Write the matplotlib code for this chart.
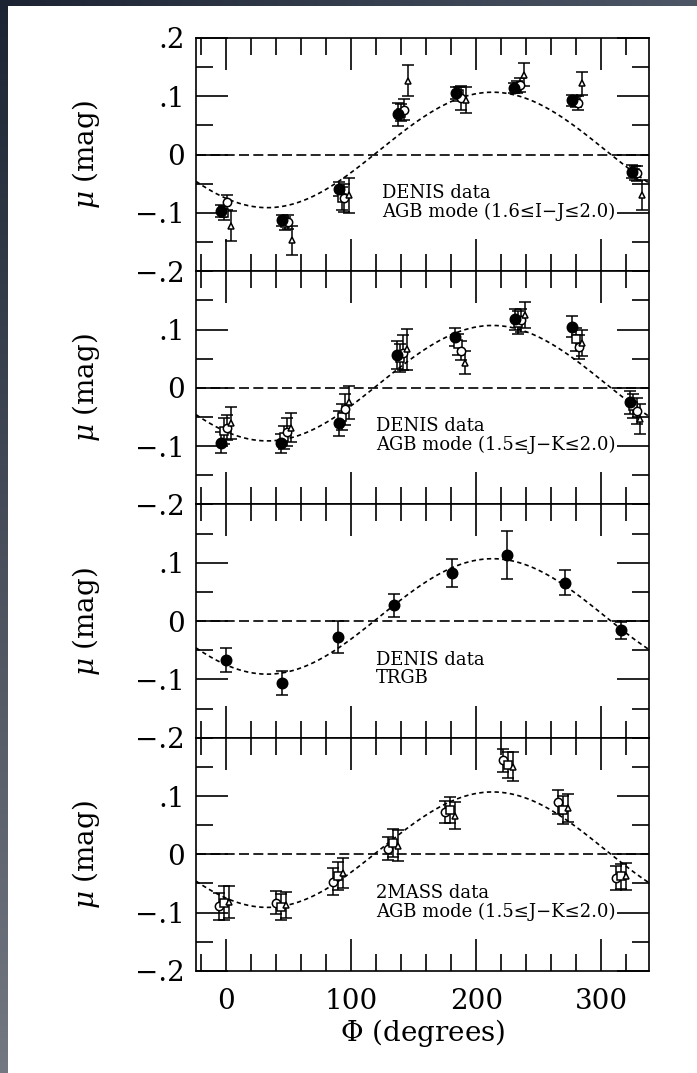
import numpy as np
import matplotlib.pyplot as plt
from matplotlib.ticker import MultipleLocator, FuncFormatter

plt.rcParams['font.family'] = ['DejaVu Serif']
plt.rcParams['mathtext.fontset'] = 'dejavuserif'

# Фазы секторов (градусы) и значения модуля расстояния по панелям
phi_agb_ij = [-4.0, 44.7, 90.0, 137.6, 183.6, 230.3, 276.8, 324.3]
agb_ij_filled = [-0.097, -0.113, -0.059, 0.069, 0.106, 0.114, 0.093, -0.029]
agb_ij_filled_err = [0.010, 0.010, 0.012, 0.020, 0.010, 0.009, 0.010, 0.011]
agb_ij_square = [-0.100, -0.118, -0.075, 0.072, 0.104, 0.116, 0.091, -0.031]
agb_ij_square_err = [0.012, 0.011, 0.020, 0.015, 0.012, 0.010, 0.010, 0.012]
agb_ij_circle = [-0.082, -0.115, -0.074, 0.077, 0.097, 0.120, 0.089, -0.032]
agb_ij_circle_err = [0.013, 0.012, 0.024, 0.018, 0.020, 0.012, 0.012, 0.013]
agb_ij_tri = [-0.122, -0.147, -0.070, 0.127, 0.094, 0.137, 0.122, -0.069]
agb_ij_tri_err = [0.026, 0.025, 0.030, 0.027, 0.022, 0.020, 0.020, 0.026]

phi_agb_jk = [-4.4, 43.9, 90.0, 136.5, 182.8, 230.7, 276.8, 323.1]
agb_jk_filled = [-0.094, -0.095, -0.061, 0.057, 0.087, 0.118, 0.105, -0.025]
agb_jk_filled_err = [0.018, 0.016, 0.022, 0.024, 0.016, 0.018, 0.018, 0.020]
agb_jk_square = [-0.074, -0.085, -0.050, 0.052, 0.075, 0.112, 0.083, -0.031]
agb_jk_square_err = [0.022, 0.020, 0.022, 0.024, 0.018, 0.020, 0.020, 0.020]
agb_jk_circle = [-0.068, -0.076, -0.037, 0.060, 0.064, 0.116, 0.070, -0.040]
agb_jk_circle_err = [0.022, 0.024, 0.027, 0.030, 0.017, 0.020, 0.020, 0.022]
agb_jk_tri = [-0.060, -0.068, -0.025, 0.066, 0.043, 0.125, 0.077, -0.054]
agb_jk_tri_err = [0.028, 0.025, 0.028, 0.035, 0.020, 0.022, 0.023, 0.026]

phi_trgb = [0.0, 44.5, 89.7, 134.4, 180.2, 224.9, 270.7, 315.4]
trgb = [-0.067, -0.106, -0.027, 0.027, 0.082, 0.114, 0.066, -0.016]
trgb_err = [0.020, 0.020, 0.027, 0.020, 0.024, 0.041, 0.021, 0.014]

phi_2mass = [-5.3, 39.9, 85.7, 129.6, 174.9, 221.4, 265.3, 311.9]
mass_circle = [-0.089, -0.083, -0.047, 0.010, 0.073, 0.161, 0.090, -0.041]
mass_circle_err = [0.023, 0.020, 0.023, 0.020, 0.019, 0.019, 0.020, 0.021]
mass_square = [-0.084, -0.090, -0.038, 0.019, 0.076, 0.153, 0.076, -0.038]
mass_square_err = [0.029, 0.022, 0.024, 0.024, 0.022, 0.022, 0.024, 0.022]
mass_tri = [-0.082, -0.087, -0.032, 0.015, 0.066, 0.150, 0.079, -0.038]
mass_tri_err = [0.028, 0.022, 0.025, 0.027, 0.023, 0.025, 0.024, 0.023]

# Параметры синусоидальной модели: mu = c + A cos(phi - phi0)
fit_offset = 0.008
fit_amp = 0.099
fit_phase = 213.0

panel_text = [
    ('DENIS data', r'AGB mode (1.6≤I−J≤2.0)'),
    ('DENIS data', r'AGB mode (1.5≤J−K≤2.0)'),
    ('DENIS data', 'TRGB'),
    ('2MASS data', r'AGB mode (1.5≤J−K≤2.0)'),
]
text_x = [125, 120, 120, 120]

LW = 1.2


def fmt_y(v, pos):
    if abs(v) < 1e-9:
        return '0'
    s = '%.1f' % abs(v)
    s = s.lstrip('0')
    return ('−' if v < 0 else '') + s


def draw_points(ax, phi, y, err, shift, marker, ms, filled):
    x = np.array(phi) + shift
    ax.errorbar(x, y, yerr=err, fmt=marker, ms=ms,
                mfc='black' if filled else 'white', mec='black', mew=1.1,
                ecolor='black', elinewidth=1.1, capsize=4, capthick=1.1,
                zorder=3)


fig, axes = plt.subplots(4, 1, figsize=(6.97, 10.73), dpi=100, sharex=True)
fig.subplots_adjust(left=0.2812, right=0.9311, top=0.9646, bottom=0.0951,
                    hspace=0)

# Тёмная рамка слева и сверху
bg = fig.add_axes([0, 0, 1, 1], zorder=-10)
bg.axis('off')
H, W = 1073, 697
img = np.ones((H, W, 3))
c0 = np.array([0.11, 0.14, 0.20])
c_right = np.array([0.30, 0.34, 0.40])
c_bottom = np.array([0.45, 0.47, 0.51])
tx = np.linspace(0, 1, W)[:, None]
ty = np.linspace(0, 1, H)[:, None]
img[:6, :, :] = (c0 + (c_right - c0) * tx)[None, :, :]
img[:, :8, :] = (c0 + (c_bottom - c0) * ty)[:, None, :]
bg.imshow(img, aspect='auto', extent=[0, 1, 0, 1])
bg.set_xlim(0, 1)
bg.set_ylim(0, 1)

phi_model = np.linspace(-24, 338, 400)
mu_model = fit_offset + fit_amp * np.cos(np.radians(phi_model - fit_phase))

for i, ax in enumerate(axes):
    ax.set_xlim(-24, 338)
    ax.set_ylim(-0.2, 0.2)
    ax.axhline(0, color='black', lw=LW, dashes=(6, 2.6), zorder=2)
    ax.plot(phi_model, mu_model, color='black', lw=LW, dashes=(2.6, 2.0),
            zorder=2)

    ax.xaxis.set_major_locator(MultipleLocator(100))
    ax.xaxis.set_minor_locator(MultipleLocator(20))
    ax.yaxis.set_major_locator(MultipleLocator(0.1))
    ax.yaxis.set_minor_locator(MultipleLocator(0.05))
    ax.yaxis.set_major_formatter(FuncFormatter(fmt_y))
    ax.tick_params(which='both', direction='in', top=True, right=True,
                   width=LW, colors='black', labelsize=20)
    ax.tick_params(which='major', length=23)
    ax.tick_params(which='minor', length=12)
    ax.tick_params(axis='y', pad=8)
    ax.tick_params(axis='x', pad=12)
    for sp in ax.spines.values():
        sp.set_linewidth(LW)

    if i > 0:
        ax.set_yticks([-0.2, -0.1, 0.0, 0.1])

    ax.text(-0.243, 0.5, r'$\mu$ (mag)', transform=ax.transAxes,
            rotation=90, ha='center', va='center', fontsize=20)
    ax.text(text_x[i], -0.066, panel_text[i][0], fontsize=13,
            ha='left', va='center')
    ax.text(text_x[i], -0.098, panel_text[i][1], fontsize=13,
            ha='left', va='center')

# Панель 1: DENIS, AGB (I-J)
ax = axes[0]
draw_points(ax, phi_agb_ij, agb_ij_square, agb_ij_square_err, 2.5, 's', 6, False)
draw_points(ax, phi_agb_ij, agb_ij_circle, agb_ij_circle_err, 4.5, 'o', 6, False)
draw_points(ax, phi_agb_ij, agb_ij_tri, agb_ij_tri_err, 8.0, '^', 4, False)
draw_points(ax, phi_agb_ij, agb_ij_filled, agb_ij_filled_err, 0.0, 'o', 7.5, True)

# Панель 2: DENIS, AGB (J-K)
ax = axes[1]
draw_points(ax, phi_agb_jk, agb_jk_square, agb_jk_square_err, 2.5, 's', 6, False)
draw_points(ax, phi_agb_jk, agb_jk_circle, agb_jk_circle_err, 5.0, 'o', 6, False)
draw_points(ax, phi_agb_jk, agb_jk_tri, agb_jk_tri_err, 8.0, '^', 4, False)
draw_points(ax, phi_agb_jk, agb_jk_filled, agb_jk_filled_err, 0.0, 'o', 7.5, True)

# Панель 3: DENIS, TRGB
draw_points(axes[2], phi_trgb, trgb, trgb_err, 0.0, 'o', 7.5, True)

# Панель 4: 2MASS, AGB (J-K)
ax = axes[3]
draw_points(ax, phi_2mass, mass_circle, mass_circle_err, 0.0, 'o', 6, False)
draw_points(ax, phi_2mass, mass_square, mass_square_err, 4.0, 's', 6, False)
draw_points(ax, phi_2mass, mass_tri, mass_tri_err, 8.0, '^', 4, False)

axes[3].set_xlabel(r'$\Phi$ (degrees)', fontsize=20, labelpad=2)

fig.savefig('out.png', dpi=100, facecolor='white')
